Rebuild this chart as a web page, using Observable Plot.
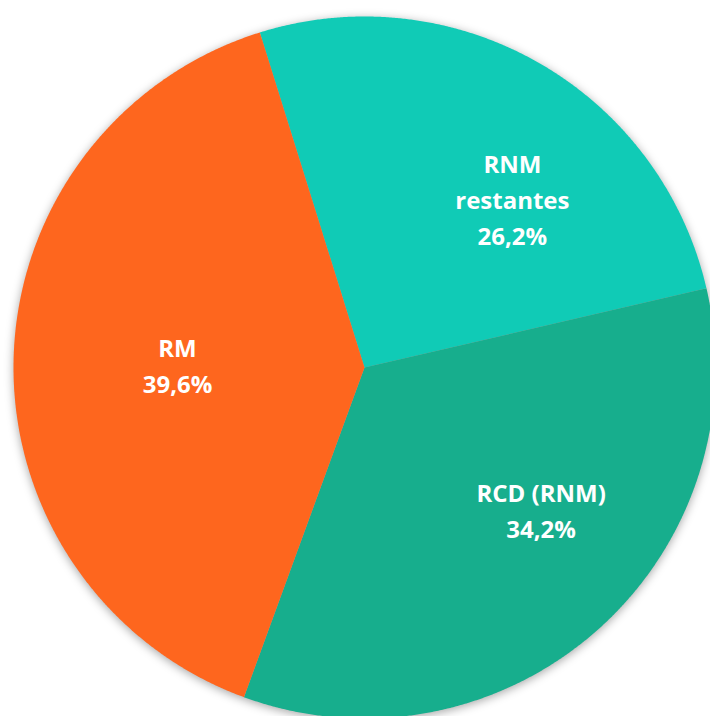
<!DOCTYPE html>
<html>
<head>
<meta charset="utf-8">
<script src="https://cdn.jsdelivr.net/npm/d3@7"></script>
<script src="https://cdn.jsdelivr.net/npm/@observablehq/plot@0.6"></script>
<style>
  html, body { margin: 0; padding: 0; background: #ffffff; }
  #chart { width: 710px; height: 716px; overflow: hidden; }
</style>
</head>
<body>
<div id="chart"></div>
<script>
// ---- data ----
const categories = ["RNM restantes", "RCD (RNM)", "RM"];
const labelNames = ["RNM\nrestantes", "RCD (RNM)", "RM"];
const values = [26.2, 34.2, 39.6];
const colors = ["#10CBB6", "#17AE8D", "#FE661E"];

// ---- layout ----
const W = 710, H = 716;
const cx = 364, cy = 367, R = 351;
const startDeg = -17.35;                 // rotation of first slice boundary (clockwise from 12 o'clock)
const labelAngleNudge = [11.5, -9.6, -0.9]; // best-fit label shifts (degrees)
const labelRadius = [224, 227, 187];

const total = d3.sum(values);
const slices = [];
let acc = startDeg;
values.forEach((v, i) => {
  const a0 = acc, a1 = acc + v / total * 360;
  acc = a1;
  slices.push({name: categories[i], value: v, a0, a1, i});
});

// polygon points along each slice (in pixel-like units relative to center, y downward)
const pts = [];
for (const s of slices) {
  pts.push({name: s.name, x: 0, y: 0});
  const n = Math.ceil((s.a1 - s.a0) / 0.25);
  for (let k = 0; k <= n; k++) {
    const a = (s.a0 + (s.a1 - s.a0) * k / n) * Math.PI / 180;
    pts.push({name: s.name, x: R * Math.sin(a), y: -R * Math.cos(a)});
  }
  pts.push({name: s.name, x: 0, y: 0});
}

const fmt = v => v.toFixed(1).replace(".", ",") + "%";
const labels = slices.map(s => {
  const a = ((s.a0 + s.a1) / 2 + labelAngleNudge[s.i]) * Math.PI / 180;
  const r = labelRadius[s.i];
  return {name: s.name, x: r * Math.sin(a), y: -r * Math.cos(a), text: labelNames[s.i] + "\n" + fmt(s.value)};
});

const svg = Plot.plot({
  width: W,
  height: H,
  margin: 0,
  style: {background: "transparent", overflow: "visible"},
  x: {domain: [-cx, W - cx], range: [0, W], axis: null},
  y: {domain: [-cy, H - cy], range: [0, H], axis: null},
  color: {domain: categories, range: colors},
  marks: [
    Plot.line(pts, {x: "x", y: "y", z: "name", fill: "name", stroke: "none", curve: "linear"}),
    Plot.text(labels, {
      x: "x", y: "y", text: "text", dy: -2,
      fill: "white", fontSize: 24, fontWeight: "bold",
      fontFamily: "Open Sans", lineHeight: 1.5, lineAnchor: "middle", textAnchor: "middle"
    })
  ]
});

d3.select(svg).select('g[aria-label="line"]').style("filter", "drop-shadow(0px 2px 5px rgba(0,0,0,0.35))");
document.getElementById("chart").appendChild(svg);
</script>
</body>
</html>
